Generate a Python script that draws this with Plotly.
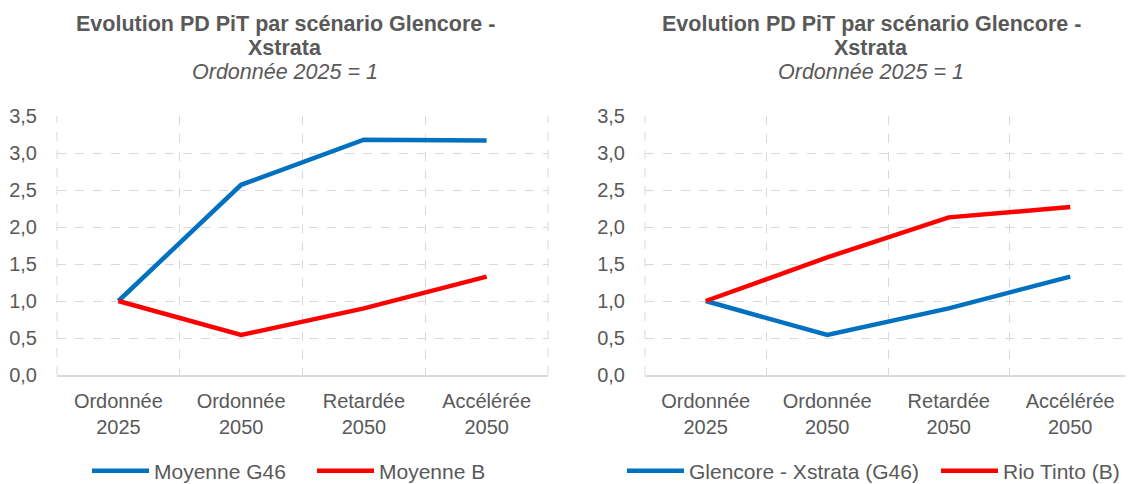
import plotly.graph_objects as go

# data
scenarios = ['Ordonnée<br>2025', 'Ordonnée<br>2050', 'Retardée<br>2050', 'Accélérée<br>2050']
moyenne_g46 = [1.0, 2.57, 3.18, 3.17]
moyenne_b = [1.0, 0.54, 0.90, 1.33]
glencore_g46 = [1.0, 0.54, 0.90, 1.33]
rio_tinto_b = [1.0, 1.59, 2.13, 2.27]

BLUE = '#0070C0'
RED = '#FF0000'
GREY = '#595959'
GRID = '#D9D9D9'
FONT = 'Liberation Sans, Arial, sans-serif'

W, H = 1133, 484
OFF = 8  # the page body adds an 8px offset, positions below are screen pixels
# plot areas run from y=116 to y=375 px (screen), titles and legends sit in the margins
T, B, L, R = 116 - OFF, H - (375 - OFF), 0, 0


def fx(x):
    return (x - OFF - L) / (W - L - R)


def fy(y):
    return (H - B - (y - OFF)) / (H - T - B)


series = [
    ('Moyenne G46', moyenne_g46, BLUE, 'x', 'y', 'legend', 114),
    ('Moyenne B', moyenne_b, RED, 'x', 'y', 'legend2', 339),
    ('Glencore - Xstrata (G46)', glencore_g46, BLUE, 'x2', 'y2', 'legend3', 649),
    ('Rio Tinto (B)', rio_tinto_b, RED, 'x2', 'y2', 'legend4', 963),
]

fig = go.Figure()
legends = {}
for name, vals, color, xa, ya, leg, lx in series:
    fig.add_trace(go.Scatter(x=scenarios, y=vals, name=name, mode='lines',
                             line=dict(color=color, width=4.5), xaxis=xa, yaxis=ya, legend=leg))
    # legend box sits flush with the bottom of the figure so it never pushes the margins
    legends[leg] = dict(orientation='h', x=fx(lx - 27), xanchor='left',
                        y=fy(H + OFF - 0.5), yanchor='bottom',
                        itemwidth=57, font=dict(size=21, color=GREY), bgcolor='rgba(0,0,0,0)')

xaxis_style = dict(type='category', range=[-0.5, 3.5], tickson='boundaries', ticks='',
                   showgrid=True, gridcolor=GRID, griddash='dash', gridwidth=1,
                   showline=True, linecolor=GRID, linewidth=1.5, automargin=False,
                   tickangle=0, ticklabelstandoff=7,
                   tickfont=dict(size=20, color=GREY), fixedrange=True)
yaxis_style = dict(range=[0, 3.5], dtick=0.5, tickformat='.1f', ticks='',
                   showgrid=True, gridcolor=GRID, griddash='dash', gridwidth=1,
                   zeroline=False, showline=False, ticklabelstandoff=19, automargin=False,
                   tickfont=dict(size=20, color=GREY), fixedrange=True)

fig.update_layout(
    width=W, height=H,
    margin=dict(l=L, r=R, t=T, b=B),
    paper_bgcolor='white', plot_bgcolor='white',
    font=dict(family=FONT, color=GREY, size=20),
    separators=',.',
    showlegend=True,
    xaxis=dict(domain=[fx(57), fx(548)], anchor='y', **xaxis_style),
    yaxis=dict(domain=[0, 1], anchor='x', **yaxis_style),
    xaxis2=dict(domain=[fx(645), fx(1131)], anchor='y2', **xaxis_style),
    yaxis2=dict(domain=[0, 1], anchor='x2', **yaxis_style),
    **legends,
)

# dashed frame on the left / right edges of each plot area
for xr, yr in [('x domain', 'y domain'), ('x2 domain', 'y2 domain')]:
    for xv in [0, 1]:
        fig.add_shape(type='line', xref=xr, yref=yr, x0=xv, x1=xv, y0=0, y1=1,
                      line=dict(color=GRID, width=1, dash='dash'), layer='below')

# titles, one annotation per line to keep Excel-like line spacing
for cx in [285, 871]:
    for text, ty in [('<b>Evolution PD PiT par scénario Glencore -</b>', 24),
                     ('<b>Xstrata</b>', 48),
                     ('<i>Ordonnée 2025 = 1</i>', 72)]:
        fig.add_annotation(text=text, x=fx(cx), y=fy(ty), xref='paper', yref='paper',
                           xanchor='center', yanchor='middle', showarrow=False,
                           font=dict(size=21.5, color=GREY, family=FONT))

fig.write_html('out.html')
